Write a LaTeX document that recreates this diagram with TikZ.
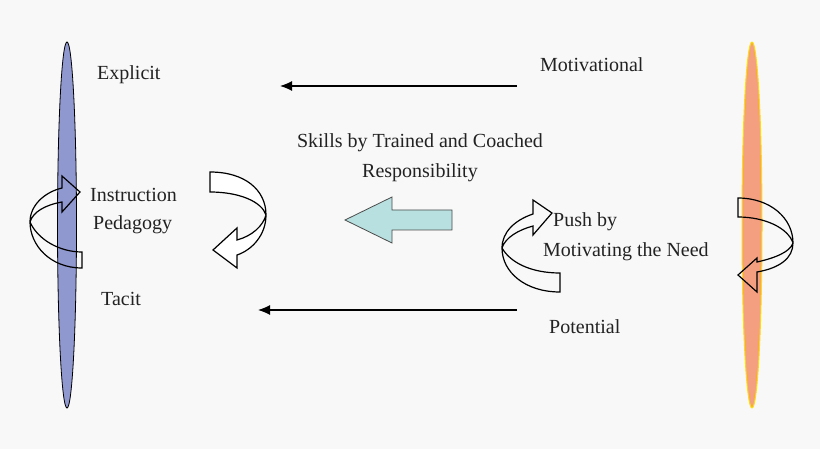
\documentclass[tikz,border=0pt]{standalone}
\usepackage{fontspec}
\setmainfont{Liberation Serif}
\definecolor{bg}{HTML}{F8F8F8}
\definecolor{bluee}{HTML}{9098D0}
\definecolor{orangee}{HTML}{F4A080}
\definecolor{teal}{HTML}{B8E0E0}
\definecolor{txt}{HTML}{222222}
\begin{document}
\begin{tikzpicture}[x=1pt,y=-1pt,
  lbl/.style={font=\fontsize{20}{24}\selectfont,text=txt,inner sep=0pt},
  rot/.style={draw=black,line width=1.2pt,line join=miter},
  arr/.style={draw=black,line width=1.2pt,-{Latex[length=12pt,width=10pt]}}]
\usetikzlibrary{arrows.meta}
\fill[bg] (0,0) rectangle (820,449);
\useasboundingbox (0,0) rectangle (820,449);
% ellipses
\draw[fill=bluee,draw=black,line width=0.8pt] (67,225) ellipse [x radius=9.5,y radius=183];
\draw[fill=orangee,draw=yellow!80!orange,line width=1pt] (752,225) ellipse [x radius=10,y radius=183];
% texts
\node[lbl,anchor=west] (expl) at (97,75) {Explicit};
\node[lbl,anchor=west] (motiv) at (540,65) {Motivational};
\node[lbl] (skills) at (420,143) {Skills by Trained and Coached};
\node[lbl] (resp) at (420,173) {Responsibility};
\node[lbl,anchor=west] (instr) at (90,195) {Instruction};
\node[lbl,anchor=west] (peda) at (93,225) {Pedagogy};
\node[lbl,anchor=west] (tacit) at (101,299) {Tacit};
\node[lbl,anchor=west] (push) at (553,222) {Push by};
\node[lbl,anchor=west] (need) at (543,252) {Motivating the Need};
\node[lbl,anchor=west] (pot) at (549,327) {Potential};
% straight arrows
\coordinate (t1) at (517,86); \coordinate (t2) at (280,86);
\coordinate (b1) at (517,310); \coordinate (b2) at (258,310);
\draw[arr] (t1) -- (t2);
\draw[arr] (b1) -- (b2);
% block arrow
\draw[fill=teal,draw=black!70,line width=0.8pt] (452,210) -- (392,210) -- (392,197) -- (345,220) -- (392,243) -- (392,230) -- (452,230) -- cycle;
% left rotating arrow
\draw[rot] (82,252) -- (82,268) .. controls (50,268) and (30,245) .. (30,222)
  .. controls (30,205) and (45,192) .. (62,188) -- (62,176) -- (80,192) -- (62,212) -- (62,202)
  .. controls (45,205) and (33,212) .. (30,222)
  .. controls (38,240) and (60,252) .. (82,252) -- cycle;
% middle rotating arrow
\draw[rot,fill=white] (210,172) .. controls (245,172) and (266,190) .. (266,215)
  .. controls (266,235) and (252,250) .. (237,255) -- (237,268) -- (213,250) -- (237,228) -- (237,240)
  .. controls (252,236) and (263,226) .. (266,215)
  .. controls (262,202) and (240,192) .. (210,192) -- cycle;
% right-middle rotating arrow
\draw[rot] (560,273) -- (560,292) .. controls (525,292) and (502,272) .. (502,248)
  .. controls (502,232) and (515,220) .. (533,214) -- (533,200) -- (552,213) -- (533,235) -- (533,226)
  .. controls (518,230) and (505,238) .. (502,248)
  .. controls (510,262) and (530,273) .. (560,273) -- cycle;
% right rotating arrow
\draw[rot] (738,198) .. controls (770,198) and (793,218) .. (793,243)
  .. controls (793,258) and (780,268) .. (757,272) -- (757,292) -- (738,275) -- (757,258) -- (757,262)
  .. controls (775,258) and (790,252) .. (793,243)
  .. controls (788,228) and (765,217) .. (738,217) -- cycle;
\end{tikzpicture}
\end{document}
